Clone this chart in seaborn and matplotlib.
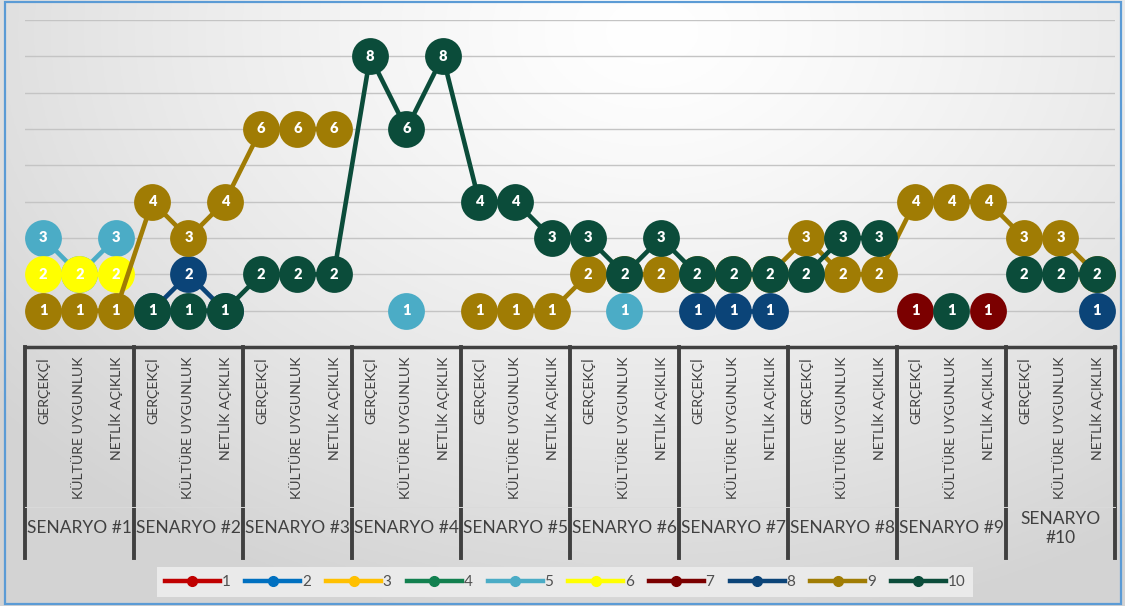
import textwrap
import numpy as np
import pandas as pd
import matplotlib.pyplot as plt
import seaborn as sns
from matplotlib.lines import Line2D
from matplotlib.patches import Rectangle

nan = np.nan

# categories
criteria = ["GERÇEKÇİ", "KÜLTÜRE UYGUNLUK", "NETLİK AÇIKLIK"]
scenarios = [f"SENARYO #{i}" for i in range(1, 11)]
series_names = [str(i) for i in range(1, 11)]

# series values (one value per scenario/criterion, NaN = no point)
s1 = [nan] * 30
s2 = [nan] * 30
s3 = [nan] * 30
s4 = [nan] * 30
s5 = [3, 2, 3, nan, nan, nan, nan, nan, nan, nan, 1, nan, nan, nan, nan,
      nan, 1, nan, nan, nan, nan, nan, nan, nan, nan, nan, nan, nan, nan, nan]
s6 = [2, 2, 2, nan, nan, nan, nan, nan, nan, nan, nan, nan, nan, nan, nan,
      nan, nan, nan, nan, nan, nan, nan, nan, nan, nan, nan, nan, nan, nan, nan]
s7 = [nan, nan, nan, nan, nan, nan, nan, nan, nan, nan, nan, nan, nan, nan, nan,
      nan, nan, nan, nan, nan, nan, nan, nan, nan, 1, nan, 1, nan, nan, nan]
s8 = [nan, nan, nan, 1, 2, 1, nan, nan, nan, nan, nan, nan, nan, nan, nan,
      nan, nan, nan, 1, 1, 1, nan, nan, nan, nan, nan, nan, nan, nan, 1]
s9 = [1, 1, 1, 4, 3, 4, 6, 6, 6, nan, nan, nan, 1, 1, 1,
      2, 2, 2, 2, 2, 2, 3, 2, 2, 4, 4, 4, 3, 3, 2]
s10 = [nan, nan, nan, 1, 1, 1, 2, 2, 2, 8, 6, 8, 4, 4, 3,
       3, 2, 3, 2, 2, 2, 2, 3, 3, nan, 1, nan, 2, 2, 2]
all_series = [s1, s2, s3, s4, s5, s6, s7, s8, s9, s10]

colors = ["#C00000", "#0070C0", "#FFC000", "#12804F", "#4BACC6",
          "#FFFF00", "#7B0000", "#0B4478", "#A07C04", "#0B4C3A"]

fig = plt.figure(figsize=(11.25, 6.06), dpi=100)

# background gradient (white at top centre, grey at the edges)
bg = fig.add_axes([0, 0, 1, 1], zorder=-10)
gx, gy = np.meshgrid(np.linspace(0, 1, 400), np.linspace(0, 1, 220))
d = np.sqrt(((gx - 0.58) / 0.75) ** 2 + ((gy - 0.05) / 1.0) ** 2)
shade = 1.0 - 0.17 * np.clip(d, 0, 1) ** 1.3
bg.imshow(np.dstack([shade] * 3), extent=[0, 1, 0, 1], aspect="auto", origin="upper")
bg.set_axis_off()
fig.patches.append(Rectangle((0.004, 0.004), 0.992, 0.992, transform=fig.transFigure,
                             fill=False, edgecolor="#5B9BD5", linewidth=1.6))

ax = fig.add_axes([0.0222, 0.4274, 0.9689, 0.5396])
ax.patch.set_alpha(0)

pos = np.arange(30)
for i, (name, vals, c) in enumerate(zip(series_names, all_series, colors)):
    v = np.array(vals, dtype=float)
    if np.all(np.isnan(v)):
        continue
    seg = np.cumsum(np.isnan(v))
    df = pd.DataFrame({"x": pos, "y": v, "seg": seg}).dropna()
    sns.lineplot(data=df, x="x", y="y", units="seg", estimator=None, sort=False,
                 color=c, linewidth=3.3, marker="o", markersize=26.5,
                 markeredgewidth=0, ax=ax, zorder=3 + i, clip_on=False)
    for x, y in zip(df["x"], df["y"]):
        ax.text(x, y, f"{int(y)}", color="white", fontsize=10.5, fontweight="heavy",
                ha="center", va="center", zorder=3.5 + i, family="Lato")

ax.set_xlim(-0.5, 29.5)
ax.set_ylim(0, 9)
ax.set_yticks(range(1, 10))
ax.set_yticklabels([])
ax.grid(axis="y", color="#C4C4C4", linewidth=1.0)
ax.grid(axis="x", visible=False)
ax.tick_params(axis="y", length=0)
for s in ["left", "right", "top"]:
    ax.spines[s].set_visible(False)
ax.spines["bottom"].set_color("#404040")
ax.spines["bottom"].set_linewidth(2.5)
ax.set_xlabel("")
ax.set_ylabel("")

ax.set_xticks(pos)
ax.set_xticklabels(criteria * 10, rotation=90, fontsize=10.2, color="#404040",
                   family="Lato", va="top", ha="center")
ax.tick_params(axis="x", length=0, pad=7)

tr = ax.get_xaxis_transform()
for k in range(11):
    ax.add_line(Line2D([k * 3 - 0.5] * 2, [0, -0.645], transform=tr, clip_on=False,
                       color="#404040", linewidth=2.8))
ax.add_line(Line2D([-0.5, 29.5], [-0.49, -0.49], transform=tr, clip_on=False,
                   color="#DADADA", linewidth=0.7))
for k, sc in enumerate(scenarios):
    ax.text(k * 3 + 1, -0.555, textwrap.fill(sc, 10), transform=tr, ha="center",
            va="center", fontsize=12.5, color="#404040", family="Lato", linespacing=1.3)

handles = [Line2D([], [], color=c, linewidth=3.2, marker="o", markersize=7)
           for c in colors]
leg = fig.legend(handles, series_names, loc="center", ncol=10,
                 bbox_to_anchor=(565 / 1125, 1 - 582 / 606), frameon=True,
                 handlelength=3.6, columnspacing=1.0, handletextpad=0.1,
                 prop={"family": "Lato", "size": 11}, labelcolor="#505050",
                 borderpad=0.5)
leg.get_frame().set_facecolor("#EAEAEA")
leg.get_frame().set_edgecolor("none")
leg.get_frame().set_alpha(1)
leg.get_frame().set_boxstyle("square", pad=0)

fig.savefig("out.png", dpi=100)
